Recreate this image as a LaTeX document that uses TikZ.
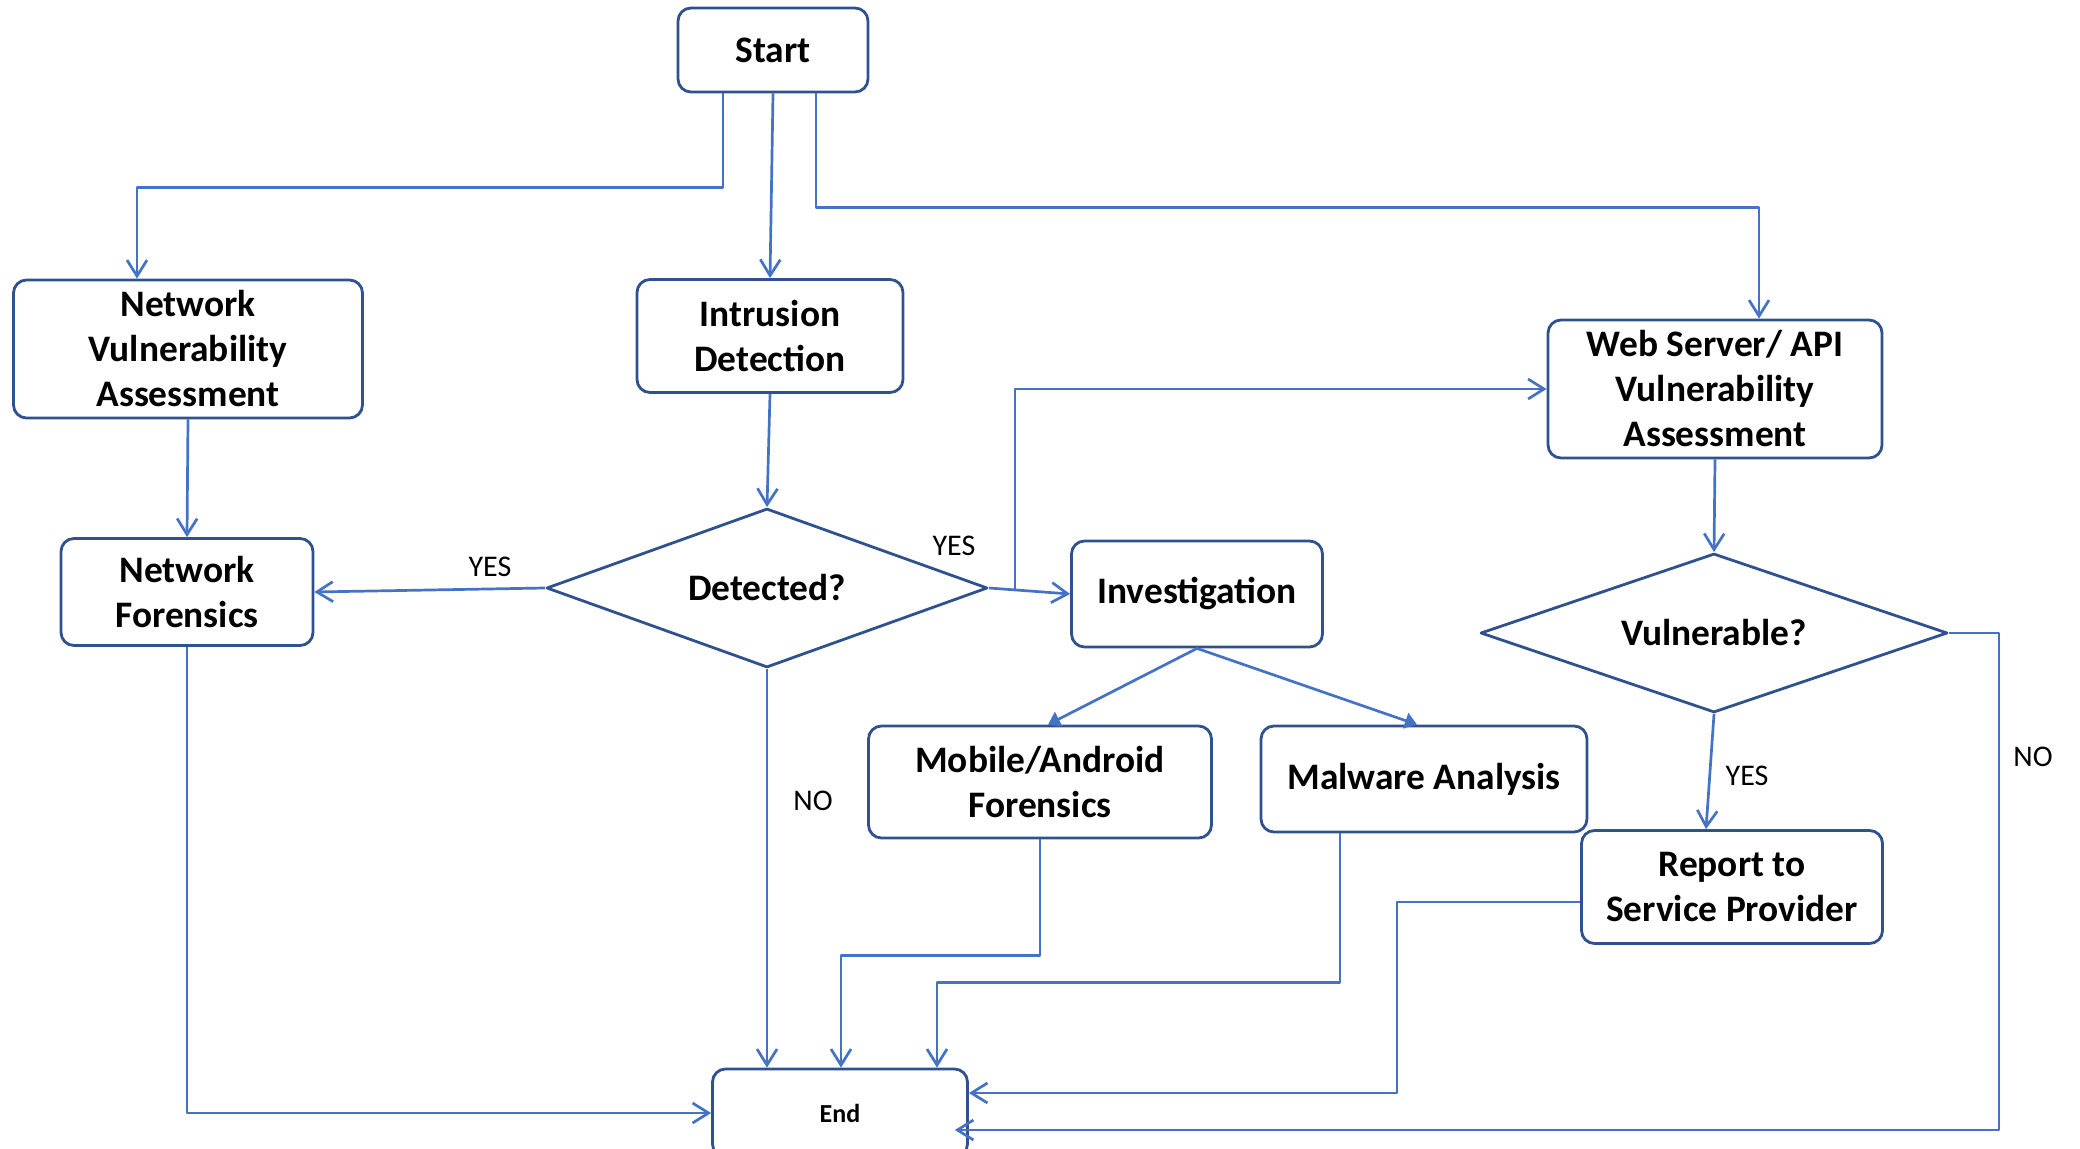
\documentclass[tikz,border=0pt]{standalone}
\usepackage{fontspec}
\setmainfont{Carlito}
\usetikzlibrary{shapes.geometric,arrows.meta,calc}
\definecolor{boxblue}{HTML}{2F528F}
\definecolor{linkblue}{HTML}{4472C4}

\begin{document}
\begin{tikzpicture}[
	x=0.5pt, y=0.5pt, line join=round,
	box/.style={draw=boxblue, line width=1.4pt, rounded corners=6.5pt, fill=white, align=center,
		inner sep=2pt, font=\fontsize{18.7}{22.5}\selectfont\bfseries},
	decision/.style={draw=boxblue, line width=1.4pt, diamond, shape aspect=2.8, fill=white, inner sep=0pt,
		align=center, font=\fontsize{18.7}{22.5}\selectfont\bfseries},
	link/.style={draw=linkblue, line width=1.35pt, -{Straight Barb[length=8pt,width=10pt]}},
	fork/.style={draw=linkblue, line width=1.35pt, -{Triangle[length=6pt,width=8pt]}},
	tag/.style={font=\fontsize{15}{18}\selectfont, inner sep=1pt}
	]
	\useasboundingbox (0,0) rectangle (2080,-1149);
	
	% 1. BOXES
	\node[box, minimum width=95pt, minimum height=42pt] (start) at (773,-50) {Start};
	\node[box, minimum width=174.5pt, minimum height=69pt] (nva) at (188,-349) {Network\\Vulnerability\\Assessment};
	\node[box, minimum width=126pt, minimum height=53.5pt] (nf) at (187,-592) {Network\\Forensics};
	\node[box, minimum width=133pt, minimum height=56.5pt] (ids) at (770,-336) {Intrusion\\Detection};
	\node[box, minimum width=125.5pt, minimum height=53pt] (inv) at (1197,-594) {Investigation};
	\node[box, minimum width=171.5pt, minimum height=56pt] (mob) at (1040,-782) {Mobile/Android\\Forensics};
	\node[box, minimum width=163pt, minimum height=53pt] (mal) at (1424,-779) {Malware Analysis};
	\node[box, minimum width=167pt, minimum height=69pt] (web) at (1715,-389) {Web Server/ API\\Vulnerability\\Assessment};
	\node[box, minimum width=150.5pt, minimum height=56.5pt] (rep) at (1732,-887) {Report to\\Service Provider};
	\node[box, minimum width=127.5pt, minimum height=44pt, font=\fontsize{13}{16}\selectfont\bfseries] (end) at (840,-1113) {End};
	
	% 2. DECISIONS
	\node[decision, minimum width=220.5pt, minimum height=79.5pt] (det) at (767,-588) {Detected?};
	\node[decision, minimum width=233.5pt, minimum height=79.5pt] (vul) at (1714,-633) {Vulnerable?};
	
	% 3. CONNECTORS FROM START
	\draw[link] ([xshift=-25pt]start.south) -- ++(0,-94) -| ([xshift=-25.5pt]nva.north);
	\draw[link] (start.south) -- (ids.north);
	\draw[link] ([xshift=21.5pt]start.south) -- ++(0,-114) -| ([xshift=22pt]web.north);
	
	% 4. LEFT AND MIDDLE BRANCH
	\draw[link] (nva.south) -- (nf.north);
	\draw[link] (ids.south) -- (det.north);
	\draw[link] (det.west) -- (nf.east);
	\draw[link] (det.east) -- (inv.west);
	\draw[link] ($(det.east)!0.32!(inv.west)$) |- (web.west);
	\draw[link] (det.south) -- (det.south |- end.north);
	\draw[fork] (inv.south) -- ([xshift=4pt]mob.north);
	\draw[fork] (inv.south) -- ([xshift=-3.5pt]mal.north);
	
	% 5. RIGHT BRANCH
	\draw[link] (web.south) -- (vul.north);
	\draw[link] (vul.south) -- ([xshift=-13pt]rep.north);
	
	% 6. INTO END
	\draw[link] (nf.south) |- (end.west);
	\draw[link] (mob.south) -- ++(0,-116) -| ([xshift=0.5pt]end.north);
	\draw[link] ([xshift=-42pt]mal.south) -- ++(0,-149) -| ([xshift=48.5pt]end.north);
	\draw[link] ([yshift=-7.5pt]rep.west) -- ++(-183,0) |- ([yshift=10pt]end.east);
	\draw[link] (vul.east) -- ++(50,0) |- ([xshift=-7pt,yshift=-8.5pt]end.east);
	
	% 7. LABELS
	\node[tag] (yesl) at (490,-567) {YES};
	\node[tag] (yesr) at (954,-546) {YES};
	\node[tag] (nod) at (813,-801) {NO};
	\node[tag] (yesv) at (1747,-776) {YES};
	\node[tag] (nov) at (2033,-757) {NO};
	
\end{tikzpicture}
\end{document}
